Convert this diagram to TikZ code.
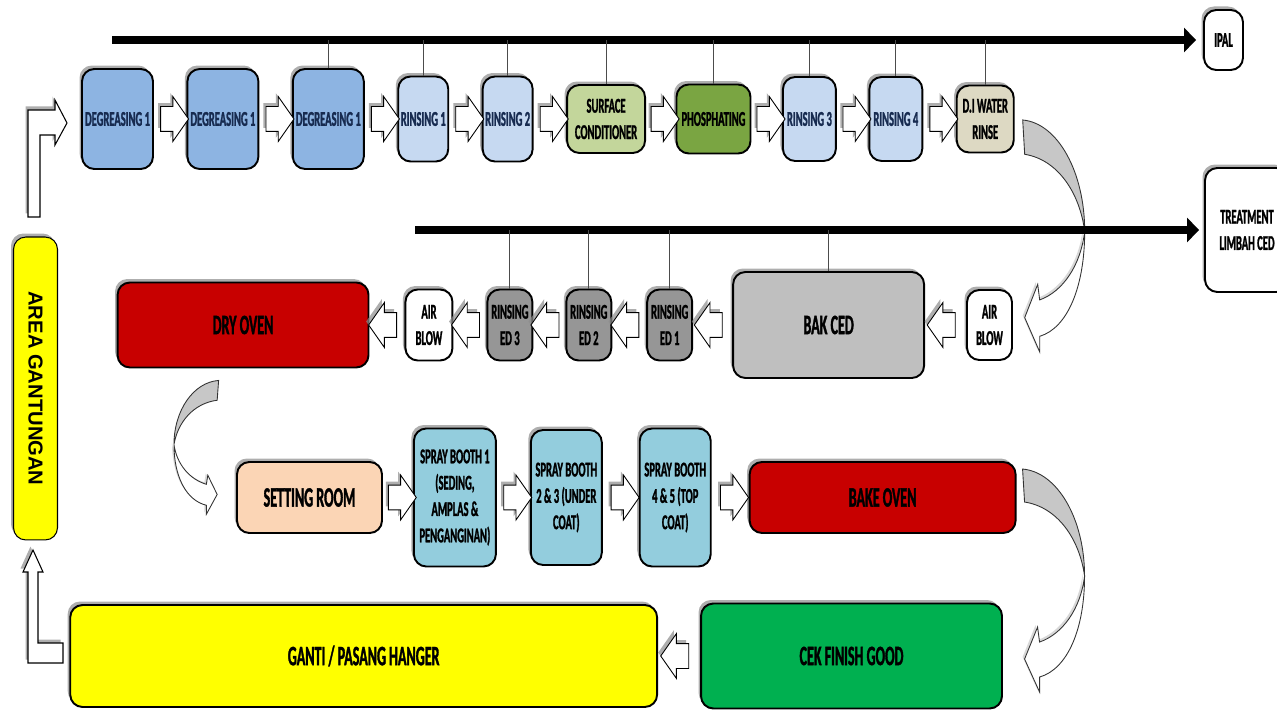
\documentclass[tikz,border=0pt]{standalone}
\usepackage{fontspec}
\setmainfont{Carlito}[FakeStretch=0.5, BoldFeatures={FakeBold=1.2}]
\newfontfamily\tebal{Liberation Sans}
\usepackage{tikz}
\usetikzlibrary{positioning,calc,shapes.arrows,shadows,arrows.meta}
\definecolor{biru}{RGB}{141,180,226}
\definecolor{birumuda}{RGB}{198,217,241}
\definecolor{hijaumuda}{RGB}{195,214,155}
\definecolor{hijau}{RGB}{122,165,66}
\definecolor{krem}{RGB}{221,217,195}
\definecolor{abu}{RGB}{191,191,191}
\definecolor{abutua}{RGB}{150,150,150}
\definecolor{merah}{RGB}{200,0,0}
\definecolor{peach}{RGB}{251,213,181}
\definecolor{spray}{RGB}{147,205,221}
\definecolor{kuning}{RGB}{255,255,0}
\definecolor{hijaucek}{RGB}{0,176,80}
\definecolor{navy}{RGB}{23,43,80}
\tikzstyle{bayang} = [drop shadow={shadow xshift=-0.5mm, shadow yshift=0.7mm, fill=black!45, opacity=0.7}]
\tikzstyle{kotak} = [draw=black, line width=1.1pt, rounded corners=7pt, align=center, inner sep=1pt, bayang]
\tikzstyle{kecil} = [font=\fontsize{12}{15}\selectfont\bfseries]
\tikzstyle{besar} = [font=\fontsize{16}{18}\selectfont\bfseries]
\tikzstyle{panah} = [single arrow, draw=black, fill=white, line width=0.5pt, inner xsep=0pt, inner ysep=2.4mm, minimum height=5.6mm, single arrow head extend=2mm, single arrow tip angle=110, bayang]
\tikzstyle{panahkiri} = [panah, shape border rotate=180]
\tikzstyle{bentuk} = [draw=black, fill=white, line width=0.6pt, bayang]
\tikzstyle{garis} = [line width=4pt, -{Triangle[length=2.4mm, width=4.8mm]}]
\tikzstyle{tipis} = [draw=black!70, line width=0.5pt]
\tikzset{
  lengkung/.pic={
    \path[draw=black!80, line width=0.5pt, fill=black!22]
      (0,0) .. controls (35,3) and (62,50) .. (62,107)
      .. controls (57,70) and (35,38) .. (2,33) -- cycle;
    \path[draw=black!80, line width=0.5pt, fill=white, drop shadow={shadow xshift=-0.4mm, shadow yshift=0.4mm, fill=black!30}]
      (62,107) .. controls (62,160) and (45,200) .. (17,208) -- (17,223) -- (2,190)
      -- (15,158) -- (17,173) .. controls (40,165) and (58,140) .. (62,107) -- cycle;
  }
}
\begin{document}
\begin{tikzpicture}[x=0.02cm, y=-0.02cm, auto, node distance=6.5mm]
  \useasboundingbox (0,0) rectangle (1277,712);
  % baris atas
  \node[kotak, kecil, fill=biru, text=navy, minimum width=14.2mm, minimum height=20mm] (deg1) at (117.5,119) {DEGREASING 1};
  \node[kotak, kecil, fill=biru, text=navy, minimum width=14.2mm, minimum height=20mm, right=of deg1] (deg2) {DEGREASING 1};
  \node[kotak, kecil, fill=biru, text=navy, minimum width=14.2mm, minimum height=20mm, right=of deg2] (deg3) {DEGREASING 1};
  \node[kotak, kecil, fill=birumuda, text=navy, minimum width=10mm, minimum height=17mm, right=of deg3] (rinse1) {RINSING 1};
  \node[kotak, kecil, fill=birumuda, text=navy, minimum width=10mm, minimum height=17mm, right=of rinse1] (rinse2) {RINSING 2};
  \node[kotak, kecil, fill=hijaumuda, minimum width=15.6mm, minimum height=13.6mm, right=of rinse2] (surface) {SURFACE\\CONDITIONER};
  \node[kotak, kecil, fill=hijau, minimum width=14.8mm, minimum height=13.8mm, right=5.9mm of surface] (phos) {PHOSPHATING};
  \node[kotak, kecil, fill=birumuda, text=navy, minimum width=10.6mm, minimum height=16.8mm, right=6.1mm of phos] (rinse3) {RINSING 3};
  \node[kotak, kecil, fill=birumuda, text=navy, minimum width=10.6mm, minimum height=16.8mm, right=6.3mm of rinse3] (rinse4) {RINSING 4};
  \node[kotak, kecil, fill=krem, minimum width=11.4mm, minimum height=13.4mm, right=of rinse4] (dirinse) {D.I WATER\\RINSE};
  \node[kotak, kecil, fill=white, minimum width=7.8mm, minimum height=12mm] (ipal) at (1223.5,40) {IPAL};
  % baris tengah
  \node[kotak, kecil, fill=white, minimum width=9mm, minimum height=14mm] (airblow1) at (989.5,325) {AIR\\BLOW};
  \node[kotak, besar, fill=abu, minimum width=38.2mm, minimum height=21.2mm, left=8.2mm of airblow1] (bakced) {BAK CED};
  \node[kotak, kecil, fill=abutua, minimum width=9mm, minimum height=14.2mm, left=7.8mm of bakced] (ed1) {RINSING\\ED 1};
  \node[kotak, kecil, fill=abutua, minimum width=9mm, minimum height=14.2mm, left=6.8mm of ed1] (ed2) {RINSING\\ED 2};
  \node[kotak, kecil, fill=abutua, minimum width=9mm, minimum height=14.2mm, left=6.4mm of ed2] (ed3) {RINSING\\ED 3};
  \node[kotak, kecil, fill=white, minimum width=9.4mm, minimum height=14.2mm, left=6.6mm of ed3] (airblow2) {AIR\\BLOW};
  \node[kotak, besar, fill=merah, minimum width=50.2mm, minimum height=17mm, left=7mm of airblow2] (dryoven) {DRY OVEN};
  \node[kotak, kecil, fill=white, minimum width=16.8mm, minimum height=24.8mm] (treatment) at (1247,230) {TREATMENT\\LIMBAH CED};
  % baris bawah
  \node[kotak, besar, fill=peach, minimum width=29mm, minimum height=14.2mm] (setting) at (309.5,497.5) {SETTING ROOM};
  \node[kotak, kecil, fill=spray, minimum width=16.4mm, minimum height=27.6mm, right=6mm of setting] (spray1) {SPRAY BOOTH 1\\(SEDING,\\AMPLAS \&\\PENGANGINAN)};
  \node[kotak, kecil, fill=spray, minimum width=14.2mm, minimum height=27mm, right=6.6mm of spray1] (spray2) {SPRAY BOOTH\\2 \& 3 (UNDER\\COAT)};
  \node[kotak, kecil, fill=spray, minimum width=14.2mm, minimum height=27.6mm, right=7.2mm of spray2] (spray4) {SPRAY BOOTH\\4 \& 5 (TOP\\COAT)};
  \node[kotak, besar, fill=merah, minimum width=53.2mm, minimum height=14.2mm, right=7.4mm of spray4] (bakeoven) {BAKE OVEN};
  \node[kotak, besar, fill=hijaucek, minimum width=60.2mm, minimum height=21mm] (cek) at (851.5,656) {CEK FINISH GOOD};
  \node[kotak, besar, fill=kuning, minimum width=117.4mm, minimum height=20.4mm, left=8.4mm of cek] (ganti) {GANTI / PASANG HANGER};
  \node[kotak, fill=kuning, line width=0.6pt, minimum width=8.8mm, minimum height=60.6mm, font=\tebal\bfseries\fontsize{11.5}{13}\selectfont] (area) at (35.5,388.5) {\rotatebox{-90}{AREA GANTUNGAN}};
  % panah blok
  \foreach \a/\b in {deg1/deg2, deg2/deg3, deg3/rinse1, rinse1/rinse2, rinse2/surface, surface/phos, phos/rinse3, rinse3/rinse4, rinse4/dirinse, setting/spray1, spray1/spray2, spray2/spray4, spray4/bakeoven}
    \node[panah] (p-\a) at ($(\a.east)!0.5!(\b.west)$) {};
  \foreach \a/\b in {airblow1/bakced, bakced/ed1, ed1/ed2, ed2/ed3, ed3/airblow2, airblow2/dryoven, cek/ganti}
    \node[panahkiri] (p-\a) at ($(\a.west)!0.5!(\b.east)$) {};
  \draw[bentuk] (28,217) -- (28,110) -- (55,110) -- (55,100) -- (67,123) -- (55,145) -- (55,135) -- (40,135) -- (40,217) -- cycle;
  \draw[bentuk] (28,572) -- (23,572) -- (33,550) -- (43,572) -- (38,572) -- (38,643) -- (63,643) -- (63,663) -- (28,663) -- cycle;
  % panah lengkung
  \pic[yscale=1.04] at ($(dirinse.east)+(8,1)$) {lengkung};
  \pic at ($(bakeoven.north east)+(6,8)$) {lengkung};
  \pic[xscale=-0.72, yscale=0.6] at ($(dryoven.south west)+(102,12)$) {lengkung};
  % saluran limbah
  \coordinate (awal1) at (112,40);
  \coordinate (awal2) at (415,230);
  \draw[garis, shorten >=1.4mm] (awal1) -- (ipal);
  \draw[garis, shorten >=1mm] (awal2) -- (treatment);
  \foreach \n in {deg3, rinse1, rinse2, surface, phos, rinse3, rinse4, dirinse}
    \draw[tipis] (\n.north) -- (\n.north |- awal1);
  \foreach \n in {ed3, ed2, ed1, bakced}
    \draw[tipis] (\n.north) -- (\n.north |- awal2);
\end{tikzpicture}
\end{document}
